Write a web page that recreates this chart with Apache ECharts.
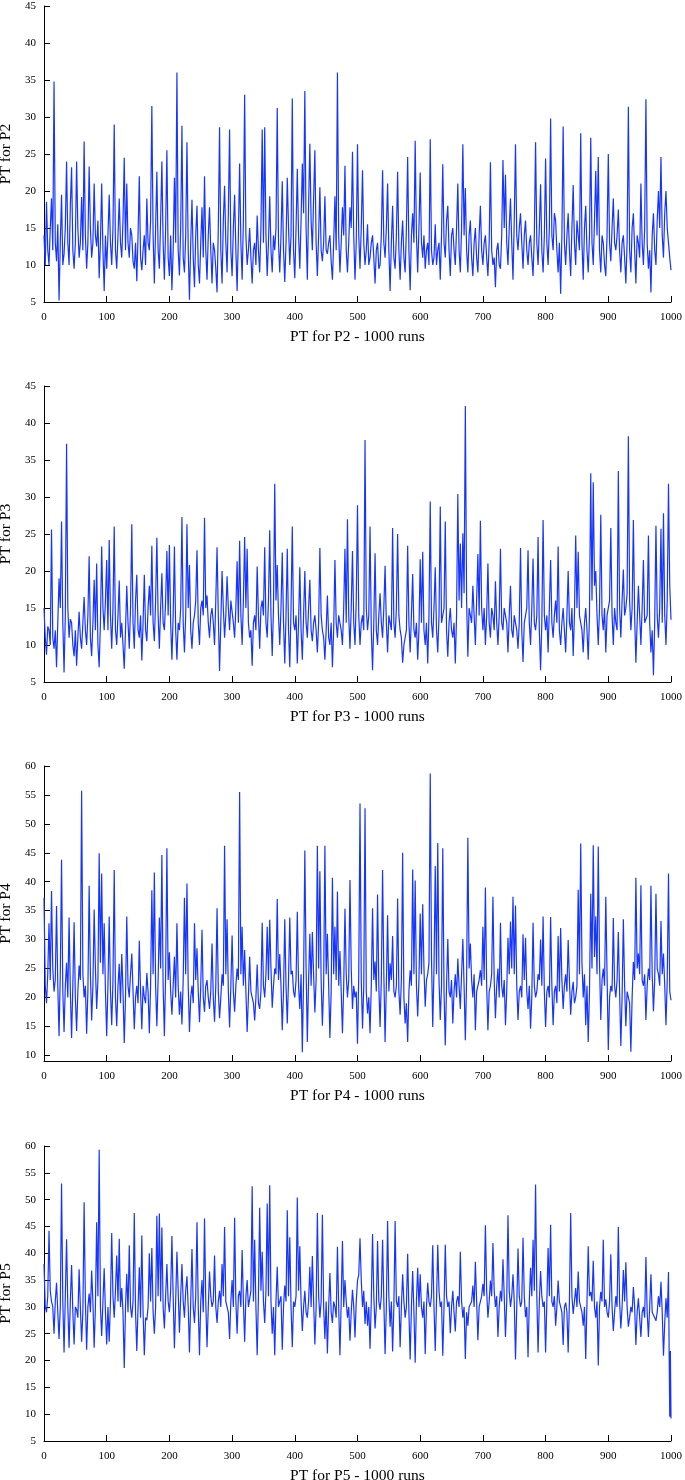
<!DOCTYPE html>
<html>
<head>
<meta charset="utf-8">
<script src="https://cdn.jsdelivr.net/npm/echarts@6/dist/echarts.min.js"></script>
<style>
  html, body { margin: 0; padding: 0; background: #fff; }
  #chart { width: 685px; height: 1480px; }
</style>
</head>
<body>
<div id="chart"></div>
<script>
const runStep = 2

const p2Values = [
  14, 10, 18.5, 12, 10, 15, 19, 12, 34.8, 13, 10.5, 15.5, 5.2, 13, 19.5, 10, 11.5, 15, 24, 13, 10, 18, 23.2, 12, 9.5, 13, 24, 15, 11, 13, 19.2, 12, 26.7, 14, 9.5, 13, 23.3, 15, 11, 13, 21, 14, 12.5, 16, 8.2, 13, 21, 12, 6.5, 14,
  9.5, 14, 19.5, 13, 10, 15, 29, 12, 9.5, 14, 19, 13, 11, 16, 24.5, 12, 21, 13, 11, 15, 14, 10.5, 9.5, 13, 7.8, 14, 22, 11, 9.3, 12, 14, 10, 19, 13, 12, 16, 31.5, 14, 7.5, 15, 22.6, 12, 9.5, 16, 24, 13, 8, 15, 25.5, 11,
  8.5, 14, 6.6, 12, 21.8, 13, 36, 12, 8.6, 15, 28.8, 11, 9, 14, 26.6, 12, 5.3, 13, 18.8, 11, 7, 14, 18, 10, 7.5, 13, 17.8, 11, 22, 12, 8, 14, 17.8, 12, 7.5, 13, 12, 9.5, 6.3, 15, 28.6, 12, 7.5, 16, 20.7, 13, 9, 17, 28.3, 12,
  8.5, 15, 19.5, 12, 6.5, 14, 23.7, 13, 8, 16, 33, 14, 10, 12, 15, 11, 7.5, 12, 13, 10, 16.7, 12, 9, 15, 28.3, 13, 28.6, 14, 8.5, 13, 19.3, 12, 9, 14, 12, 15, 31.2, 13, 9, 14, 21.3, 12, 7.7, 13, 21.8, 15, 10, 14, 32.5, 12,
  8.2, 15, 23, 14, 9.5, 16, 23.7, 17, 33.5, 15, 8, 18, 26.4, 16, 12, 19, 25.5, 13, 8.5, 14, 20.5, 12, 10.5, 13, 19.3, 12, 11.5, 13, 14, 10.5, 8, 13, 19.3, 12, 36, 14, 9, 13, 17.8, 14, 23.4, 12, 9, 13, 17.8, 15, 25.3, 14, 8, 13,
  26.3, 14, 9.5, 15, 22.8, 13, 10, 12, 15.5, 10, 11, 13, 14, 11, 7.5, 12, 13, 9.5, 10, 14, 22.8, 13, 11, 15, 21, 12, 6.5, 13, 18, 11, 9.5, 14, 22.6, 12, 8, 13, 16, 11, 9, 15, 24.6, 12, 6.6, 14, 17, 13, 26.8, 14, 9, 15,
  22.5, 13, 11, 14, 9.5, 12, 13, 10, 27, 12, 10, 11, 15.5, 10, 12, 13, 8, 14, 23.6, 13, 11, 16, 18, 12, 8.5, 14, 15, 12, 10, 15, 21, 12, 9, 15, 26.3, 14, 20.4, 12, 9, 14, 16, 11, 8.5, 13, 15, 11, 9, 14, 18, 12,
  10, 13, 14, 11, 8.5, 13, 23.9, 12, 10, 11, 7, 12, 13, 10, 9.5, 14, 24.2, 15, 22.2, 13, 10, 15, 19, 13, 8, 16, 26.3, 14, 12, 15, 17, 13, 9.5, 14, 16, 12, 10, 13, 14, 11, 8.5, 14, 26.6, 13, 10, 15, 20.9, 12, 9, 14,
  24.4, 13, 10, 15, 29.8, 14, 12, 17, 16, 12, 9, 13, 6.1, 14, 28.7, 13, 10, 14, 17, 12, 8.5, 15, 20.8, 13, 10, 16, 14, 12, 27.8, 13, 8, 15, 18, 12, 9, 14, 27.2, 13, 10, 16, 22.7, 14, 24.6, 12, 9, 14, 13, 10, 8.5, 14,
  25, 13, 10.5, 15, 19, 13, 12, 14, 17.5, 12, 9, 13, 14, 11, 7.5, 13, 31.4, 12, 9, 15, 17, 12, 7.5, 14, 13, 11, 21, 13, 10, 15, 32.4, 13, 9.5, 12, 6.3, 14, 17, 12, 10, 16, 20, 15, 24.6, 14, 11, 17, 20, 15, 13, 11, 9.3
]

const p3Values = [
  15, 11, 8.7, 12.5, 12, 10, 25.6, 11, 9.5, 12, 7, 13, 19, 15, 26.7, 13, 6.3, 14, 37.2, 15, 11, 13.5, 13, 10, 8.5, 12, 7.2, 11, 14.5, 11, 9.5, 13, 16.5, 12, 10, 14, 22, 11, 8.5, 13, 18.8, 12, 21, 10, 7, 13, 23.3, 15, 12, 16,
  21.5, 12, 24.2, 14, 9.5, 15, 26, 12, 10, 14, 18.7, 11, 13, 10, 6.8, 12, 18, 13, 9.5, 15, 26.3, 13, 9.5, 16, 19.5, 12, 11, 14, 7.9, 13, 19.5, 12, 10.5, 15, 18, 14, 23.4, 13, 10.5, 16, 24.5, 14, 9.5, 15, 19.7, 13, 12, 16, 22.7, 14,
  23.5, 13, 8, 14, 23.3, 12, 8, 13, 12, 15, 27.3, 13, 9, 14, 26.3, 15, 20.8, 12, 9.5, 13, 14, 16, 22.8, 13, 10, 15, 16, 14, 27.2, 15, 16.7, 13, 11, 14, 15, 13, 10, 16, 23.2, 14, 6.5, 13, 20, 15, 11, 14, 19.3, 15, 12, 16,
  16, 13, 11, 15, 21.3, 13, 24.1, 14, 10, 16, 24.6, 15, 23, 13, 11, 12, 7.2, 13, 14, 12, 20.6, 14, 9.5, 15, 16, 14, 23.2, 13, 11, 16, 25.5, 14, 8.5, 15, 31.8, 16, 20.8, 14, 10, 15, 22.5, 13, 7.5, 14, 23, 12, 7, 15, 26, 13,
  12, 14, 7.5, 13, 20.5, 12, 8, 14, 20, 13, 11, 15, 18.8, 12, 10.5, 13, 14, 12, 9, 13, 23.1, 14, 12, 11, 8, 12, 16.7, 11, 10, 13, 7, 12, 21.5, 13, 11, 14, 14, 12, 10, 15, 23, 13, 27, 14, 9.5, 15, 22.7, 13, 10, 16,
  28.9, 14, 10, 13, 14, 12, 37.7, 15, 12, 14, 26, 12, 6.6, 13, 22.4, 12, 10, 14, 17, 13, 11, 15, 20.7, 13, 9, 14, 14, 12, 25.8, 13, 11, 15, 25, 14, 12, 11, 7.6, 10, 10, 12, 23.4, 13, 9, 14, 19.6, 12, 11, 13, 8, 12,
  21.6, 13, 22.6, 12, 10, 13, 7.5, 14, 29.4, 13, 11, 15, 20.5, 12, 9, 14, 28.7, 13, 13, 15, 26.7, 12, 8.4, 13, 15, 12, 11, 13, 7.5, 14, 30.4, 16, 23.7, 15, 25.1, 17, 42.3, 16, 8.4, 15, 14, 13, 18, 14, 10, 16, 22.3, 14, 26.8, 15,
  12, 15, 10, 14, 21, 13, 11, 15, 14, 12, 18.6, 13, 10, 14, 23, 13, 12, 15, 15, 13, 9, 14, 18, 12, 11, 14, 14, 12, 9.5, 13, 23.1, 12, 7.7, 13, 14, 15, 22.8, 13, 10, 15, 21.7, 13, 12, 14, 24.6, 12, 6.6, 13, 26.9, 14,
  12, 14, 9, 15, 21.5, 13, 11, 14, 16, 13, 23.3, 12, 10, 13, 15, 12, 9, 14, 20, 13, 12, 15, 8.5, 14, 24.8, 15, 22.6, 14, 13, 12, 9, 13, 15, 12, 8, 14, 33.2, 16, 32, 18, 20, 14, 10, 15, 27.6, 14, 12, 15, 9, 14,
  14, 16, 25.8, 14, 10, 15, 13, 12, 33.5, 15, 11, 16, 20.2, 14, 15, 17, 38.2, 16, 12, 15, 26.9, 14, 7.6, 13, 18, 14, 10, 15, 21.5, 13, 13, 14, 24.8, 13, 9, 12, 5.9, 13, 26.1, 14, 11, 15, 25.7, 13, 27.8, 14, 10, 16, 31.8, 18, 13.4
]

const p4Values = [
  37.2, 22, 19, 24, 32.8, 23, 38.4, 25, 21, 23, 35.8, 22, 13.3, 24, 43.8, 21, 14, 22, 26, 20, 33.8, 21, 13, 22, 33, 20, 14.2, 21, 25.5, 23, 55.7, 24, 20, 22, 13.7, 21, 39.3, 24, 16, 22, 35.2, 25, 18, 23, 44.9, 26, 41.4, 24, 32.8, 21,
  13.3, 22, 34, 21, 15.2, 23, 42, 20, 15, 22, 25.8, 19, 27.5, 21, 12.1, 20, 34, 22, 20, 24, 27.6, 21, 14.5, 20, 22, 19, 29.8, 21, 14.5, 22, 20, 19, 24.2, 21, 13.8, 22, 38.5, 24, 41.6, 22, 15, 23, 33.8, 25, 44.6, 22, 13.3, 24, 45.8, 23,
  27.8, 21, 17, 22, 27, 20, 32.8, 22, 17, 21, 15.3, 23, 37.2, 24, 39.7, 22, 14, 20, 22, 19, 32.8, 23, 28.5, 21, 15.7, 22, 31.7, 20, 17.5, 22, 23, 20, 18, 21, 29.3, 20, 15.8, 22, 35.4, 21, 16.4, 20, 24, 22, 46.2, 24, 33.5, 21, 14.8, 22,
  30.7, 21, 17.5, 22, 25, 23, 55.5, 24, 32.2, 22, 28.2, 21, 14, 20, 27, 21, 20, 19, 16, 20, 25.7, 19, 18, 21, 32.9, 22, 20, 24, 32.2, 23, 33.4, 25, 18.2, 22, 25, 24, 37, 23, 27.5, 22, 14.3, 21, 33.5, 22, 15.5, 23, 33.8, 24, 24.6, 21,
  20, 23, 34.8, 22, 18, 24, 10.5, 23, 45.4, 25, 12.3, 23, 31, 22, 31.3, 24, 17.4, 23, 46.2, 25, 41.8, 23, 15.1, 22, 46.2, 24, 31, 22, 13, 21, 40.7, 24, 32.2, 23, 38.3, 22, 28, 21, 13.8, 22, 35.3, 24, 20, 23, 40.3, 25, 18, 22, 20, 21,
  12, 24, 53.5, 23, 14.6, 22, 52.7, 21, 17.2, 20, 13.8, 22, 35.4, 23, 26.2, 21, 37.8, 22, 14.9, 23, 42, 24, 12.3, 22, 34.2, 21, 25.9, 23, 30.6, 21, 20, 22, 37.1, 21, 17, 23, 45, 20, 15.5, 19, 12.3, 21, 24.7, 22, 42.1, 24, 40.2, 22, 16.7, 23,
  34.5, 24, 36.1, 25, 18.4, 23, 24, 26, 58.7, 27, 14.9, 25, 42.7, 24, 46.7, 23, 16.1, 22, 45.8, 21, 11.7, 22, 30.1, 21, 20, 23, 15.5, 21, 24, 20, 26.7, 22, 18, 24, 30.1, 22, 12.6, 23, 47.6, 25, 29.3, 23, 20, 24, 14.3, 21, 22, 23, 24.7, 22,
  32.2, 23, 39, 22, 14.3, 21, 22, 24, 37.4, 23, 16.4, 22, 25, 20, 32.9, 22, 20, 23, 15.2, 21, 30.3, 24, 33.1, 25, 37.4, 24, 35.9, 22, 16.1, 21, 22, 20, 30.9, 23, 30.3, 21, 18, 22, 14.6, 20, 32.9, 22, 20, 21, 24, 23, 30, 22, 34, 21,
  14.9, 21, 22, 20, 33.9, 22, 15.2, 21, 22, 19, 30.6, 21, 32, 23, 18, 22, 24, 21, 29.9, 23, 17, 21, 22.7, 19, 20, 22, 38.6, 24, 46.6, 26, 20, 24, 15.2, 22, 12.3, 21, 37.9, 25, 46.3, 27, 34, 24, 46.1, 26, 16.1, 23, 25, 22, 37.4, 24,
  10.9, 20, 22, 21, 33.7, 22, 20, 23, 31.3, 21, 11.6, 20, 33.5, 22, 15, 21, 20, 19, 10.6, 20, 26.1, 23, 40.7, 25, 27.6, 24, 39.4, 23, 22, 24, 16.1, 22, 25, 23, 39.3, 24, 17.6, 23, 37.9, 25, 24, 22, 33.2, 24, 27.6, 22, 15.2, 23, 41.4, 21, 19.5
]

// P5 sampled every 2 runs up to 996, then the last few runs one by one
const p5Values = [
  38, 30, 29, 32, 44.2, 33, 31, 30, 25, 31, 34.5, 29, 24, 30, 53, 31, 21.5, 32, 42.6, 30, 22.4, 31, 37.8, 29, 23, 30, 29.5, 28, 37, 30, 23.5, 29, 49.5, 31, 22, 30, 32.5, 29, 36.8, 31, 22.4, 30, 45.8, 32, 59.3, 30, 24.6, 31, 37.2, 29,
  23, 30, 23.5, 31, 43.8, 32, 28, 33, 39.6, 31, 42.7, 30, 33.5, 29, 18.6, 30, 36.2, 29, 41.5, 30, 28, 31, 47.5, 29, 21.8, 30, 37.4, 28, 43.3, 29, 21, 28, 27.5, 30, 40, 31, 41, 29, 25, 30, 47, 32, 47.4, 31, 44.8, 30, 26, 32, 38, 31,
  29, 33, 43.2, 32, 22.3, 31, 40.3, 33, 25.2, 32, 38, 31, 28, 33, 35.7, 30, 21.5, 31, 40.8, 30, 27, 32, 45.8, 30, 21, 31, 35, 29, 46.5, 31, 22.5, 30, 36.6, 32, 30, 31, 39.6, 30, 27, 31, 33, 30, 38, 32, 44.9, 31, 30, 29, 24, 31,
  35, 30, 46.6, 31, 25, 32, 33, 30, 40.6, 31, 23.5, 32, 35, 30, 30, 33, 52.5, 31, 42.5, 30, 21, 32, 48.5, 33, 40.3, 31, 27, 33, 49.3, 32, 52.7, 31, 25, 30, 21, 31, 37.5, 30, 30, 32, 22, 30, 34, 31, 48, 32, 43, 30, 22.5, 31,
  30, 32, 50.4, 33, 41.3, 31, 25.5, 30, 33, 29, 28, 31, 37.5, 30, 39.5, 31, 23, 30, 47.5, 32, 28, 31, 47.2, 30, 24, 31, 21.3, 30, 36.3, 29, 27, 31, 30, 28, 41.2, 30, 21, 31, 42.3, 30, 35, 31, 28, 30, 23.7, 29, 33.2, 30, 24.3, 31,
  34.9, 36, 42.8, 35, 30, 33, 26.8, 31, 26.5, 30, 22.2, 31, 43.6, 32, 26, 30, 42.3, 31, 29.5, 32, 42.5, 31, 21.2, 30, 46, 32, 26.3, 31, 21.7, 30, 46, 31, 30, 32, 22.5, 30, 36.1, 31, 28, 30, 39.9, 29, 20.2, 30, 36.7, 29, 19.6, 31, 37.3, 30,
  36.1, 30, 28, 31, 21.2, 30, 34.5, 31, 30, 32, 41.5, 30, 21.8, 31, 41.6, 33, 30, 31, 20.9, 30, 41.6, 32, 30, 31, 25.1, 30, 33, 29, 25.4, 31, 32, 30, 40.3, 31, 28, 30, 20.3, 29, 26.5, 30, 30.2, 31, 34, 30, 38.4, 31, 23.8, 30, 30, 32,
  34.3, 32, 45.2, 33, 28, 31, 34.9, 32, 41.9, 33, 30, 32, 24.4, 30, 33, 31, 38.9, 32, 24.4, 31, 47.1, 33, 30, 32, 36.1, 31, 20.2, 30, 40.9, 32, 30, 31, 42.9, 32, 28.1, 30, 20.6, 31, 37.3, 32, 42.5, 33, 52.8, 32, 21.5, 31, 36.7, 32, 30, 31,
  21.5, 31, 41, 32, 45.3, 31, 30, 32, 26.5, 30, 34.9, 31, 30, 29, 22.9, 30, 30.8, 29, 21.5, 31, 47.5, 32, 28.7, 31, 33.5, 30, 36.6, 31, 30, 29, 26.5, 30, 20.3, 31, 41.3, 32, 32.8, 31, 38.6, 30, 28, 31, 19.1, 30, 32.8, 31, 42.5, 30, 31.4, 29,
  28, 31, 39.8, 30, 25.5, 29, 32, 30, 44.9, 31, 26, 30, 36.9, 31, 38.3, 30, 26.3, 28, 30, 29, 33.7, 30, 22.9, 29, 31.6, 28, 24.4, 29, 30, 28, 39.3, 29, 24.4, 30, 36.1, 29, 29, 28, 27.4, 29, 32, 30, 34.7, 29, 20.9, 27, 31.6, 28, 36.5
]
const p5TailRuns = [997, 998, 999, 1000]
const p5TailValues = [22, 9.5, 21.8, 9.2]

const xTicks = { min: 0, max: 1000, interval: 100 }
const p4TickValues = [10, 15, 20, 25, 30, 35, 40, 45, 50, 55, 60]

const panels = [
  { name: 'P2', values: p2Values, yMin: 5, yMax: 45, top: 6, height: 296 },
  { name: 'P3', values: p3Values, yMin: 5, yMax: 45, top: 386, height: 296 },
  { name: 'P4', values: p4Values, yMin: 9, yMax: 60, top: 766, height: 295, yTicks: p4TickValues },
  { name: 'P5', values: p5Values, yMin: 5, yMax: 60, top: 1146, height: 295, tailRuns: p5TailRuns, tailValues: p5TailValues }
]

const font = 'Liberation Serif'
const lineColor = '#1636ff'
const axisLine = { show: true, lineStyle: { color: '#000', width: 1 } }
const axisTick = { show: true, inside: true, length: 6, lineStyle: { color: '#000', width: 1 } }

function pointsOf (p) {
  const pts = p.values.map((v, i) => [i * runStep, v])
  if (p.tailRuns) {
    p.tailRuns.forEach((r, i) => pts.push([r, p.tailValues[i]]))
  }
  return pts
}

const chart = echarts.init(document.getElementById('chart'), null, { renderer: 'canvas' })

chart.setOption({
  animation: false,
  backgroundColor: '#fff',
  grid: panels.map(p => ({ left: 44, width: 627, top: p.top, height: p.height, containLabel: false, outerBoundsMode: 'none' })),
  xAxis: panels.map((p, i) => ({
    type: 'value',
    gridIndex: i,
    min: xTicks.min,
    max: xTicks.max,
    interval: xTicks.interval,
    name: 'PT for ' + p.name + ' - 1000 runs',
    nameLocation: 'middle',
    nameGap: 27,
    nameTextStyle: { fontFamily: font, fontSize: 15.5, color: '#000' },
    axisLine,
    axisTick,
    splitLine: { show: false },
    axisLabel: { fontFamily: font, fontSize: 11, color: '#000', margin: 10, formatter: v => String(v) }
  })),
  yAxis: panels.map((p, i) => {
    const ax = {
      type: 'value',
      gridIndex: i,
      min: p.yMin,
      max: p.yMax,
      name: 'PT for ' + p.name,
      nameLocation: 'middle',
      nameGap: 30,
      nameTextStyle: { fontFamily: font, fontSize: 15.5, color: '#000' },
      axisLine,
      axisTick: Object.assign({}, axisTick),
      splitLine: { show: false },
      axisLabel: { fontFamily: font, fontSize: 11, color: '#000', margin: 8 }
    }
    if (p.yTicks) {
      ax.axisLabel.customValues = p.yTicks
      ax.axisTick.customValues = p.yTicks
    } else {
      ax.interval = 5
    }
    return ax
  }),
  series: panels.map((p, i) => ({
    type: 'line',
    xAxisIndex: i,
    yAxisIndex: i,
    data: pointsOf(p),
    showSymbol: false,
    symbol: 'none',
    lineStyle: { color: lineColor, width: 1.2 },
    itemStyle: { color: lineColor }
  }))
})
</script>
</body>
</html>
